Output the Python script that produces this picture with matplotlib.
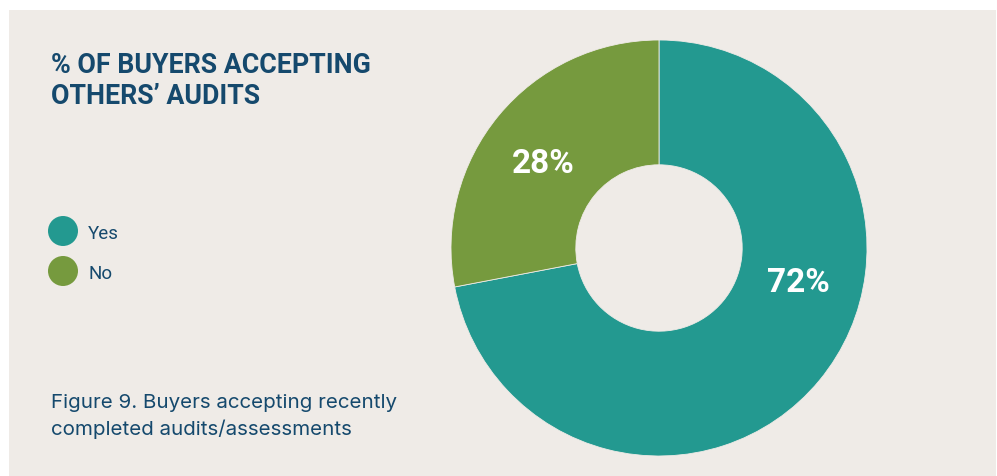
import numpy as np
import matplotlib.pyplot as plt
from matplotlib.patches import Rectangle, Circle

categories = ['Yes', 'No']
shares = [72, 28]
colors = ['#239990', '#769A3E']
title_lines = ['% OF BUYERS ACCEPTING', 'OTHERS\u2019 AUDITS']
caption_lines = ['Figure 9. Buyers accepting recently', 'completed audits/assessments']

BG = '#EFEBE7'
NAVY = '#15496D'
W, H = 997, 477

plt.rcParams['font.family'] = ['Roboto', 'DejaVu Sans']

fig = plt.figure(figsize=(W / 100, H / 100), dpi=100)
fig.patch.set_facecolor('white')

# overlay in pixel coordinates for panel, title, legend and caption
bg = fig.add_axes([0, 0, 1, 1])
bg.set_xlim(0, W)
bg.set_ylim(H, 0)
bg.axis('off')
bg.add_patch(Rectangle((9, 11), W - 10, H - 11, facecolor=BG, edgecolor='none'))

for i, line in enumerate(title_lines):
    bg.text(51, 73 + i * 31, line, fontsize=19.3, fontweight='bold', color=NAVY,
            va='baseline', ha='left')

for i, (cat, col) in enumerate(zip(categories, colors)):
    y = 232 + i * 40
    bg.add_patch(Circle((63, y), 15, facecolor=col, edgecolor='none'))
    bg.text(88, y + 7, cat, fontsize=13.5, color=NAVY, va='baseline', ha='left')

for i, line in enumerate(caption_lines):
    bg.text(51, 408 + i * 27, line, fontsize=14.8, color=NAVY, va='baseline', ha='left',
            family=['Inter', 'DejaVu Sans'])

# donut
ax = fig.add_axes([451 / W, 20 / H, 416 / W, 416 / H])
ax.set_facecolor('none')
wedges, _ = ax.pie(shares, colors=colors, startangle=90, counterclock=False,
                   radius=1, wedgeprops=dict(width=0.6, edgecolor=BG, linewidth=0.6))
ax.set_aspect('equal')
ax.set_xlim(-1, 1)
ax.set_ylim(-1, 1)

# label angles picked to match the original placement
label_angles = [-13.5, 143.5]
for pct, ang in zip(shares, label_angles):
    r = 0.69
    ax.text(r * np.cos(np.radians(ang)), r * np.sin(np.radians(ang)), f'{pct}%',
            ha='center', va='center', fontsize=24, fontweight='bold', color='white')

fig.savefig('out.png', dpi=100, facecolor=fig.get_facecolor())
